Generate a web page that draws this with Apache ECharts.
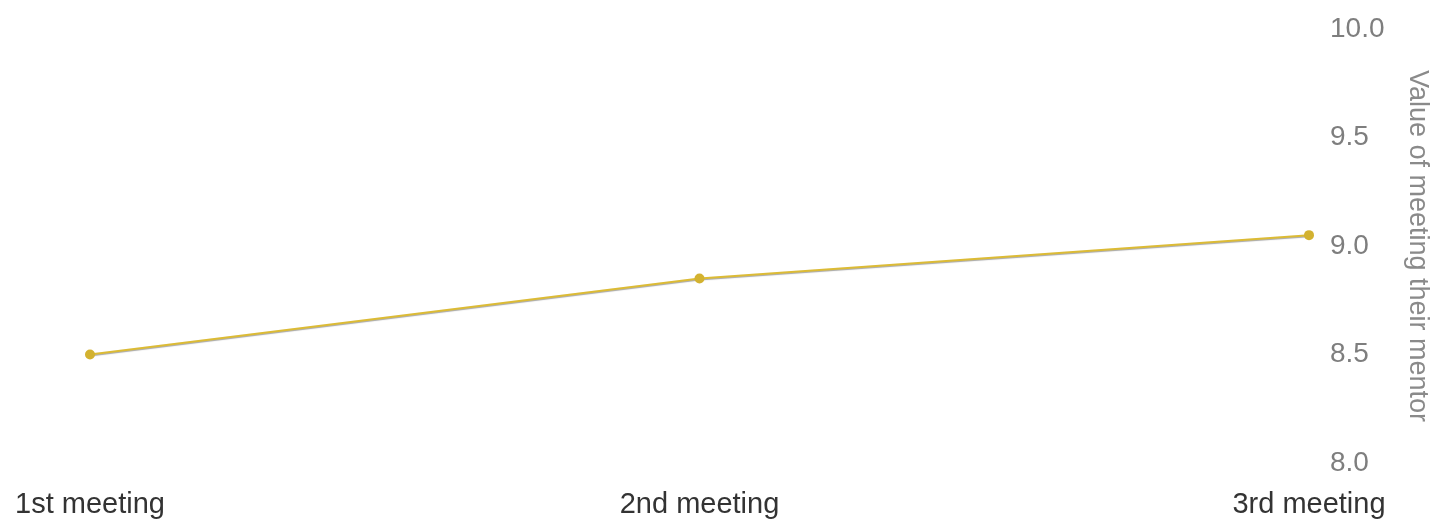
<!DOCTYPE html>
<html><head><meta charset="utf-8">
<script src="https://cdn.jsdelivr.net/npm/echarts@6/dist/echarts.min.js"></script>
<style>html,body{margin:0;padding:0;background:#fff}#c{width:1443px;height:519px}</style>
</head><body><div id="c"></div>
<script>
const categories = ["1st meeting", "2nd meeting", "3rd meeting"];
const values = [8.5, 8.85, 9.05];
const yTicks = [8.0, 8.5, 9.0, 9.5, 10.0];
const yName = "Value of meeting their mentor";

const chart = echarts.init(document.getElementById('c'), null, {renderer: 'canvas'});
chart.setOption({
  animation: false,
  grid: {left: 90, right: 134, top: 29, bottom: 56},
  xAxis: {
    type: 'category', data: categories, boundaryGap: false,
    axisLine: {show: false}, axisTick: {show: false}, splitLine: {show: false},
    axisLabel: {color: '#333', fontSize: 29, fontFamily: 'Liberation Sans', margin: 27, hideOverlap: false, interval: 0}
  },
  yAxis: {
    type: 'value', position: 'right', min: yTicks[0], max: yTicks[yTicks.length-1], interval: 0.5,
    axisLine: {show: false}, axisTick: {show: false}, splitLine: {show: false},
    axisLabel: {color: '#7e7e7e', fontSize: 28, fontFamily: 'Liberation Sans', margin: 21, formatter: v => v.toFixed(1)},
    name: yName, nameLocation: 'middle', nameRotate: -90, nameGap: 95,
    nameTextStyle: {color: '#8a8a8a', fontSize: 27, fontFamily: 'Liberation Sans'}
  },
  series: [{
    type: 'line', data: values, symbol: 'circle', symbolSize: 10,
    itemStyle: {color: '#d3b230'},
    lineStyle: {color: '#dcbb35', width: 2, shadowColor: 'rgba(0,0,0,0.35)', shadowBlur: 1, shadowOffsetY: 1}
  }]
});
</script></body></html>
